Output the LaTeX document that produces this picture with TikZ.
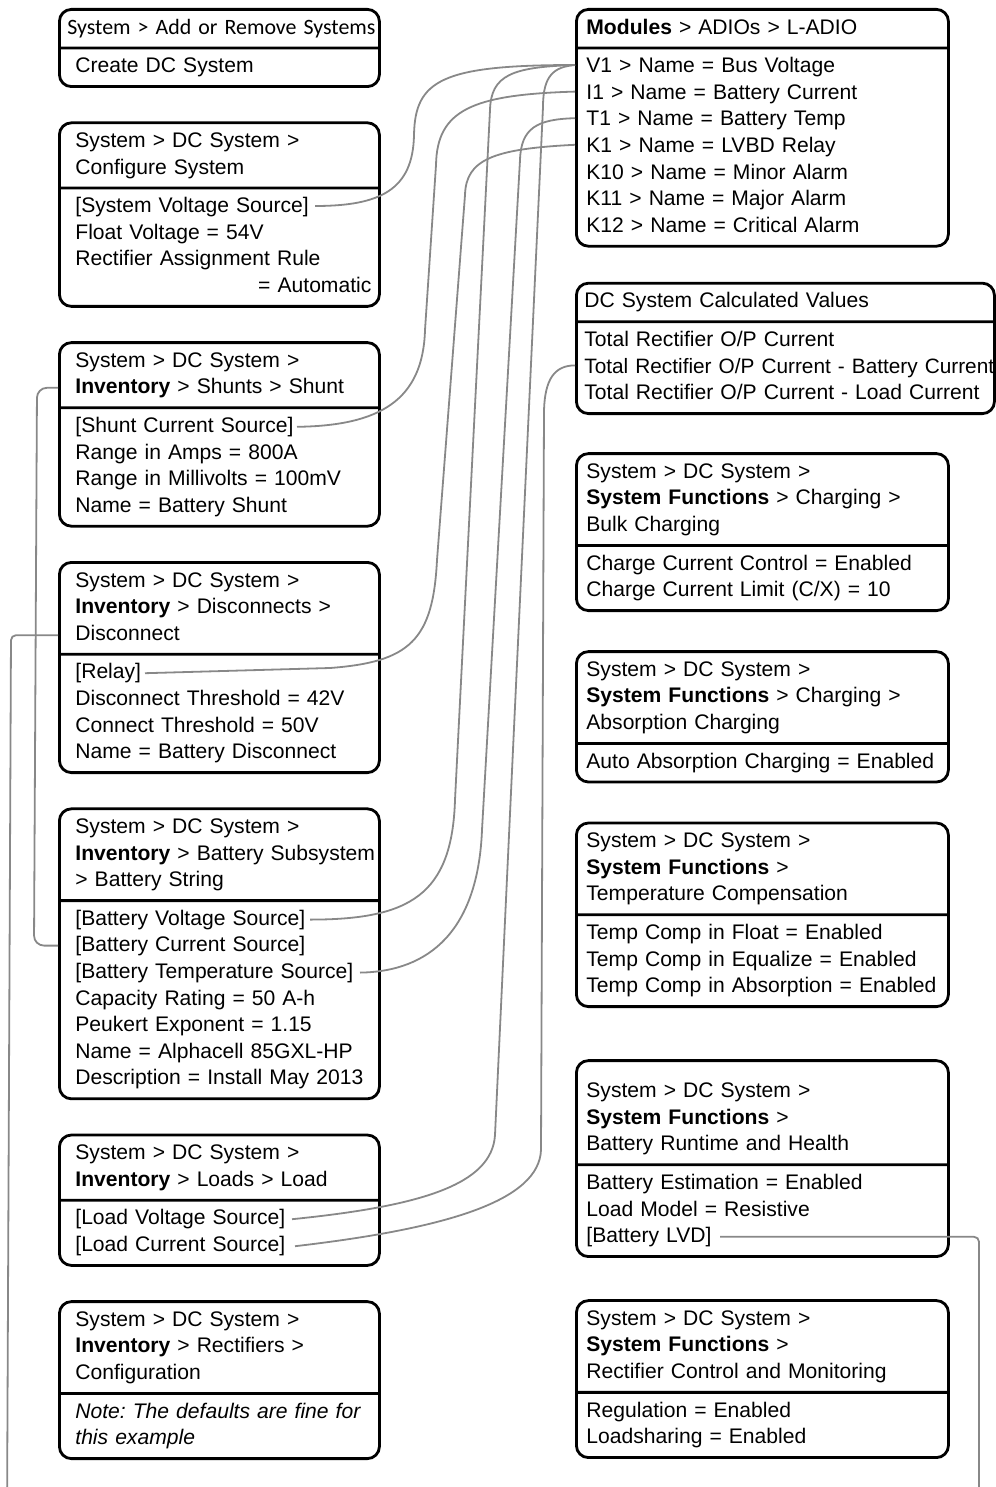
\documentclass[tikz,border=0pt]{standalone}
\usepackage{fontspec}
\setmainfont{Liberation Sans}
\newfontfamily\carlito{Carlito}
\usetikzlibrary{shapes.multipart,positioning}
\definecolor{wiregray}{RGB}{136,136,136}
\frenchspacing

\begin{document}
\begin{tikzpicture}[x=1pt,y=1pt,
card/.style={rectangle split,rectangle split parts=2,draw,line width=2.8pt,rounded corners=12pt,inner ysep=4.6pt,align=left,font=\fontsize{21.1}{26.6}\selectfont,execute at end node=\strut},
lcard/.style={card,text width=304pt,inner xsep=8pt,execute at begin node={\global\leftskip=8pt\relax\strut}},
rcard/.style={card,text width=352pt,inner xsep=10pt,execute at begin node={\global\leftskip=0pt\relax\strut}},
wire/.style={draw=wiregray,line width=1.8pt},
node distance=33.4pt]
\useasboundingbox (0,0) rectangle (995,-1487);

\node[lcard,anchor=north west] (addsys) at (58,-8)
  {\hspace*{-8pt}\mbox{\carlito\fontsize{21.9}{26.6}\selectfont System > Add or Remove Systems}%
   \nodepart{two}Create DC System};
\node[lcard,below=of addsys] (config)
  {System > DC System >\\Configure System%
   \nodepart{two}[System Voltage Source]\\Float Voltage = 54V\\Rectifier Assignment Rule\\\hspace*{\fill}= Automatic};
\node[lcard,below=of config] (shunt)
  {System > DC System >\\\textbf{Inventory} > Shunts > Shunt%
   \nodepart{two}[Shunt Current Source]\\Range in Amps = 800A\\Range in Millivolts = 100mV\\Name = Battery Shunt};
\node[lcard,below=of shunt] (disc)
  {System > DC System >\\\textbf{Inventory} > Disconnects >\\Disconnect%
   \nodepart{two}[Relay]\\Disconnect Threshold = 42V\\Connect Threshold = 50V\\Name = Battery Disconnect};
\node[lcard,below=of disc] (string)
  {System > DC System >\\\mbox{\textbf{Inventory} > Battery Subsystem}\\> Battery String%
   \nodepart{two}[Battery Voltage Source]\\{}[Battery Current Source]\\{}[Battery Temperature Source]\\Capacity Rating = 50 A-h\\Peukert Exponent = 1.15\\Name = Alphacell 85GXL-HP\\Description = Install May 2013};
\node[lcard,below=of string] (load)
  {System > DC System >\\\textbf{Inventory} > Loads > Load%
   \nodepart{two}[Load Voltage Source]\\{}[Load Current Source]};
\node[lcard,below=of load] (rectcfg)
  {System > DC System >\\\textbf{Inventory} > Rectifiers >\\Configuration%
   \nodepart{two}\itshape Note: The defaults are fine for\\this example};

\node[rcard,anchor=north west] (mods) at (575,-8)
  {\textbf{Modules} > ADIOs > L-ADIO%
   \nodepart{two}V1 > Name = Bus Voltage\\I1 > Name = Battery Current\\T1 > Name = Battery Temp\\K1 > Name = LVBD Relay\\K10 > Name = Minor Alarm\\K11 > Name = Major Alarm\\K12 > Name = Critical Alarm};
\node[rcard,text width=402pt,inner xsep=8pt,below=34.2pt of mods.south west,anchor=north west] (calc)
  {DC System Calculated Values%
   \nodepart{two}Total Rectifier O/P Current\\\mbox{\fontsize{20.8}{26.6}\selectfont Total Rectifier O/P Current - Battery Current}\\Total Rectifier O/P Current - Load Current};
\node[rcard,below=37.2pt of calc.south west,anchor=north west] (bulk)
  {System > DC System >\\\textbf{System Functions} > Charging >\\Bulk Charging%
   \nodepart{two}Charge Current Control = Enabled\\Charge Current Limit (C/X) = 10};
\node[rcard,below=38.2pt of bulk] (absorb)
  {System > DC System >\\\textbf{System Functions} > Charging >\\Absorption Charging%
   \nodepart{two}Auto Absorption Charging = Enabled};
\node[rcard,below=38.2pt of absorb] (tcomp)
  {System > DC System >\\\textbf{System Functions} >\\Temperature Compensation%
   \nodepart{two}Temp Comp in Float = Enabled\\Temp Comp in Equalize = Enabled\\Temp Comp in Absorption = Enabled};
\node[rcard,below=51.2pt of tcomp] (runtime)
  {\rule{0pt}{31pt}System > DC System >\\\textbf{System Functions} >\\Battery Runtime and Health%
   \nodepart{two}Battery Estimation = Enabled\\Load Model = Resistive\\{}[Battery LVD]};
\node[rcard,below=41.2pt of runtime] (rectctl)
  {System > DC System >\\\textbf{System Functions} >\\Rectifier Control and Monitoring%
   \nodepart{two}Regulation = Enabled\\Loadsharing = Enabled};

\coordinate (v1) at ([yshift=-17pt]mods.text split west);
\coordinate (i1) at ([yshift=-43.6pt]mods.text split west);
\coordinate (t1) at ([yshift=-70.2pt]mods.text split west);
\coordinate (k1) at ([yshift=-96.8pt]mods.text split west);
\coordinate (totbatt) at ([yshift=-43.6pt]calc.text split west);
\coordinate (sysvolt) at ([xshift=257pt,yshift=-18pt]config.text split west);
\coordinate (shuntsrc) at ([xshift=239pt,yshift=-19pt]shunt.text split west);
\coordinate (shunthead) at ([yshift=20pt]shunt.text split west);
\coordinate (relay) at ([xshift=87pt,yshift=-19pt]disc.text split west);
\coordinate (dischead) at ([yshift=19pt]disc.text split west);
\coordinate (battvolt) at ([xshift=252pt,yshift=-19pt]string.text split west);
\coordinate (battcurr) at ([yshift=-45pt]string.text split west);
\coordinate (batttemp) at ([xshift=302pt,yshift=-72pt]string.text split west);
\coordinate (loadvolt) at ([xshift=234pt,yshift=-19pt]load.text split west);
\coordinate (loadcurr) at ([xshift=237pt,yshift=-46pt]load.text split west);
\coordinate (lvd) at ([xshift=145pt,yshift=-72pt]runtime.text split west);

\draw[wire] (v1) .. controls +(-133,0) and (415,-80) .. (414,-135) .. controls (413,-190) and +(65,0) .. (sysvolt);
\draw[wire] (v1) .. controls +(-63,-2) and (491,-75) .. (490,-110) -- (455,-800) .. controls (452,-895) and +(100,0) .. (battvolt);
\draw[wire] (v1) .. controls +(-21,-2) and (543,-75) .. (543,-107) -- (495,-1135) .. controls (492,-1185) and +(128,13) .. (loadvolt);
\draw[wire] (i1) .. controls +(-103,-3) and (437,-110) .. (436,-165) -- (425,-330) .. controls (423,-400) and +(83,1) .. (shuntsrc);
\draw[wire] (t1) .. controls +(-38,-1) and (521,-128) .. (520,-160) -- (482,-830) .. controls (478,-930) and +(70,1) .. (batttemp);
\draw[wire] (k1) .. controls +(-83,-4) and (466,-160) .. (465,-195) -- (437,-560) .. controls (433,-640) and (410,-662) .. (330,-668) -- (relay);
\draw[wire] (totbatt) .. controls +(-21,0) and (545,-380) .. (544,-410) -- (541,-1150) .. controls (539,-1200) and +(155,18) .. (loadcurr);
\draw[wire,rounded corners=10pt] (shunthead) -- ++(-21,0) -- ([xshift=-24pt]battcurr) -- (battcurr);
\draw[wire,rounded corners=5pt] (dischead) -- ++(-47,0) -- (7,-1520) -- (979,-1520) |- (lvd);
\end{tikzpicture}
\end{document}
